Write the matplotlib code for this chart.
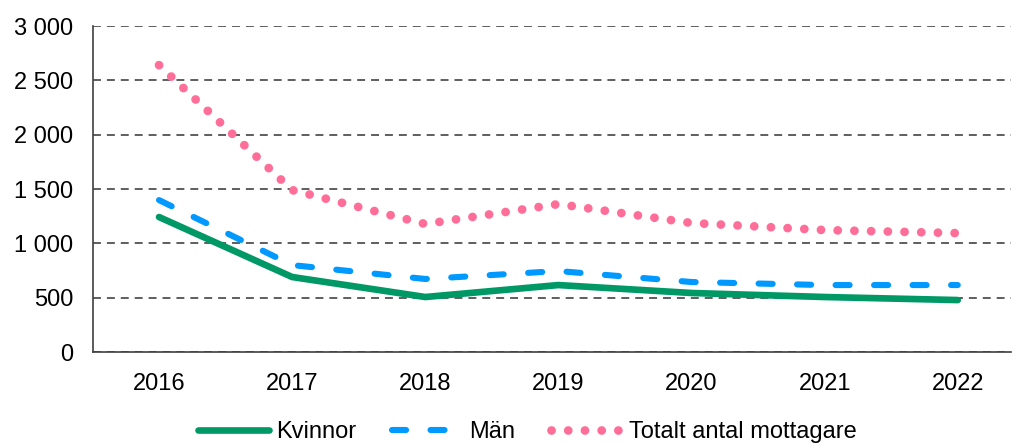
import matplotlib
matplotlib.use("Agg")
import matplotlib.pyplot as plt
from matplotlib.ticker import FuncFormatter

plt.rcParams['font.family'] = ['Liberation Sans', 'DejaVu Sans']

years = ["2016", "2017", "2018", "2019", "2020", "2021", "2022"]
kvinnor = [1242, 690, 506, 616, 543, 506, 478]
man = [1398, 800, 672, 745, 644, 616, 616]
totalt = [2640, 1490, 1178, 1361, 1187, 1122, 1094]

fig = plt.figure(figsize=(10.16, 4.44), dpi=100)
ax = fig.add_axes([93/1016, 1-352/444, (1011-93)/1016, (352-26)/444])

x = list(range(len(years)))
ax.plot(x, kvinnor, color='#009966', lw=4.8, solid_capstyle='round', solid_joinstyle='round', label='Kvinnor', zorder=3)
ax.plot(x, man, color='#0099FF', lw=4.4, dashes=(2.3, 4.0), dash_capstyle='round', label='Män', zorder=3)
ax.plot(x, totalt, color='#FF6E99', lw=6.3, dashes=(0.01, 1.9), dash_capstyle='round', label='Totalt antal mottagare', zorder=3)

ax.set_xlim(-0.496, 6.40)
ax.set_ylim(0, 3000)
ax.set_yticks(range(0, 3001, 500))
ax.yaxis.set_major_formatter(FuncFormatter(lambda v, p: f"{int(v):,}".replace(",", " ")))
ax.set_xticks(x)
ax.set_xticklabels(years)
ax.tick_params(axis='both', length=0, labelsize=17, colors='black')
ax.tick_params(axis='x', pad=15)
ax.tick_params(axis='y', pad=14)
ax.grid(axis='y', color='#333333', linestyle=(0, (5.2, 3.9)), lw=1.1)
ax.set_axisbelow(True)
for s in ['top', 'right']:
    ax.spines[s].set_visible(False)
for s in ['left', 'bottom']:
    ax.spines[s].set_color('#404040')
    ax.spines[s].set_linewidth(1.2)

leg = fig.legend(loc='lower center', bbox_to_anchor=(0.519, -0.035), ncol=3, frameon=False,
                 fontsize=17, handlelength=3.0, handletextpad=0.3, columnspacing=1.5, borderpad=0.2)

fig.savefig('out.png', dpi=100)
